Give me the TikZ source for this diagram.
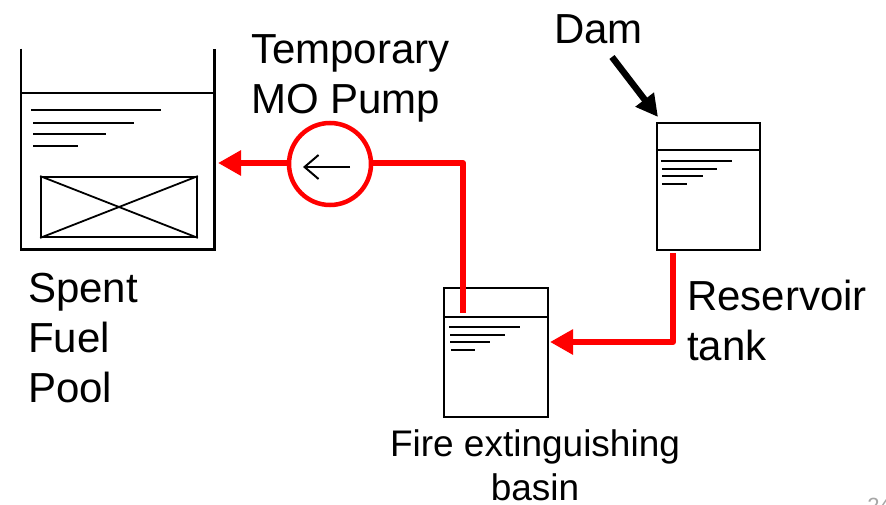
\documentclass[tikz,border=0pt]{standalone}
\usepackage{fontspec}
\setmainfont{Liberation Sans}
\usetikzlibrary{arrows.meta}
\begin{document}
\begin{tikzpicture}[x=1pt, y=-1pt, line width=2.5pt,
  every node/.style={font=\fontsize{42}{50}\selectfont},
  tank/.style={draw, rectangle, inner sep=0pt},
  label/.style={anchor=north west, inner sep=0pt, align=left},
  pipe/.style={draw=red, line width=6pt, line join=round},
  pipetip/.style={-{Triangle[length=23pt,width=24pt]}}]
  \useasboundingbox (0,0) rectangle (886,505);
  % spent fuel pool (open top)
  \node[inner sep=0pt, minimum width=191pt, minimum height=198pt] (pool) at (117.5,149) {};
  \draw (pool.north west) |- (pool.south east) -- (pool.north east);
  \draw (20,93) -- (215,93);
  \draw (31,110) -- (161,110) (33,123) -- (134,123) (33,134) -- (106,134) (33,146) -- (78,146);
  \node[tank, line width=1.8pt, minimum width=156pt, minimum height=60pt] (fuel) at (119,207) {};
  \draw[line width=1.8pt] (fuel.north west) -- (fuel.south east) (fuel.south west) -- (fuel.north east);
  \node[label] (poollbl) at (27,272) {Spent\\Fuel\\Pool};
  % pump
  \node[draw=red, line width=4.5pt, circle, inner sep=0pt, minimum size=82pt] (pump) at (330,164) {};
  \draw[line width=2pt, -{Straight Barb[length=14pt,width=24pt]}] (350,167) -- (303,167);
  \node[label] (pumplbl) at (250,33) {Temporary\\MO Pump};
  % fire extinguishing basin
  \node[tank, minimum width=104pt, minimum height=129pt] (basin) at (496,352.5) {};
  \draw (basin.north west |- 0,317) -- (basin.north east |- 0,317);
  \draw (449,327) -- (520,327) (450,335) -- (505,335) (450,342) -- (490,342) (451,350) -- (475,350);
  \node[anchor=north, inner sep=0pt, align=center, font=\fontsize{37}{44}\selectfont] (basinlbl) at (535,428) {Fire extinguishing\\basin};
  % reservoir tank
  \node[tank, minimum width=103pt, minimum height=127pt] (reservoir) at (708.5,186.5) {};
  \draw (reservoir.north west |- 0,150) -- (reservoir.north east |- 0,150);
  \draw (661,161) -- (732,161) (662,169) -- (717,169) (662,176) -- (703,176) (662,184) -- (687,184);
  \node[label] (reslbl) at (686,279) {Reservoir\\tank};
  % dam
  \node[label] (dam) at (553,13) {Dam};
  \coordinate (damfrom) at (612,57);
  \coordinate (damto) at (658,117);
  \draw[line width=6.5pt, -{Triangle[length=22pt,width=22pt]}] (damfrom) -- (damto);
  % pipes
  \coordinate (poolin) at (218,163);
  \coordinate (basinin) at (463,313);
  \coordinate (resout) at (673,253);
  \coordinate (basinside) at (550,342);
  \draw[pipe, pipetip] (pump.west |- poolin) -- (poolin);
  \draw[pipe] (pump.east |- poolin) -| (basinin);
  \draw[pipe, pipetip] (resout) |- (basinside);
  % page number
  \node[anchor=north west, inner sep=0pt, text=gray!70, font=\fontsize{22}{26}\selectfont] (pagenum) at (866,497) {24};
\end{tikzpicture}
\end{document}
